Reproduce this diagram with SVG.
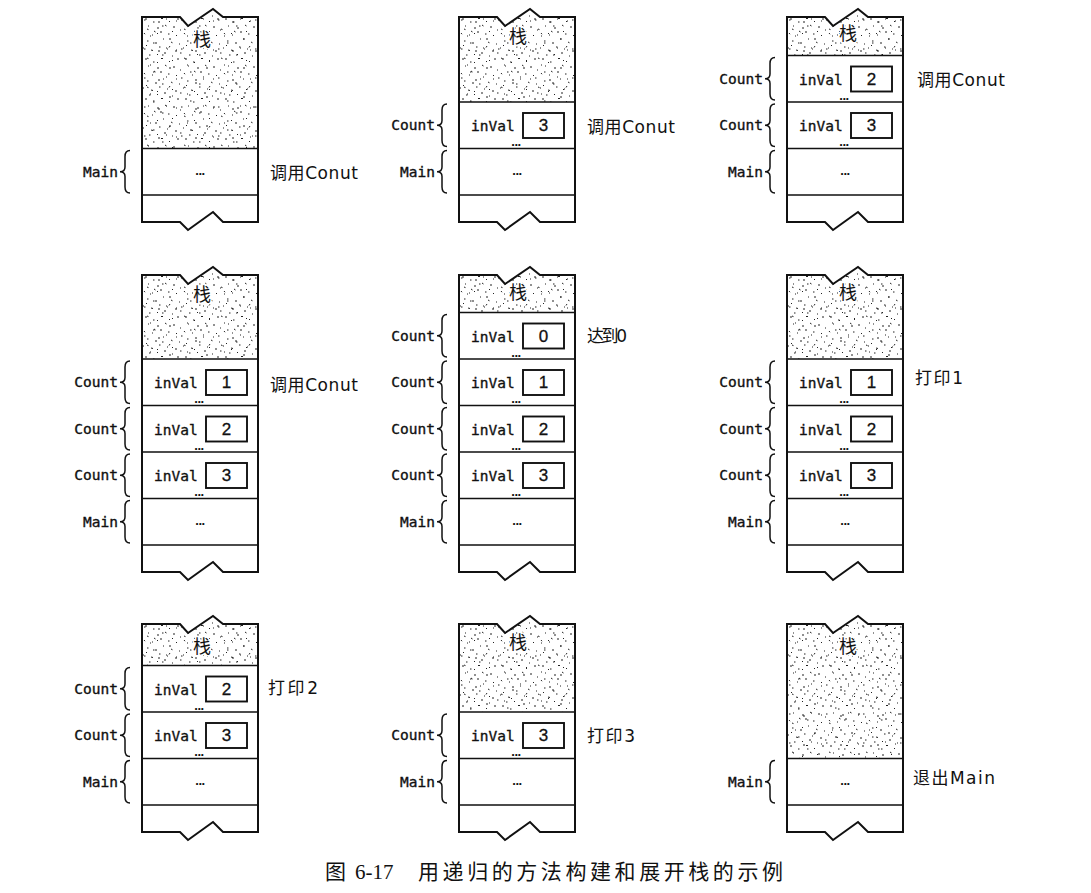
<svg xmlns="http://www.w3.org/2000/svg" xmlns:xlink="http://www.w3.org/1999/xlink" width="1091" height="893" viewBox="0 0 1091 893">
<style>
.box{fill:none;stroke:#111;stroke-width:2;stroke-linejoin:miter}
.div{fill:none;stroke:#111;stroke-width:1.6}
.vb{fill:#fff;stroke:#111;stroke-width:1.9}
.mono{font-family:"DejaVu Sans Mono","Liberation Mono",monospace;font-size:14.5px;fill:#111;stroke:#111;stroke-width:0.35}
.lbl{font-family:"DejaVu Sans Mono","Liberation Mono",monospace;font-size:14.5px;fill:#111;stroke:#111;stroke-width:0.35;text-anchor:end}
.num{font-family:"Liberation Sans",Arial,sans-serif;font-size:17px;fill:#111;stroke:#111;stroke-width:0.3;text-anchor:middle}
.dots{font-family:"Liberation Sans",Arial,sans-serif;font-size:13px;font-weight:bold;fill:#111;text-anchor:middle;letter-spacing:-0.5px}
.brace{fill:none;stroke:#111;stroke-width:1.5}
.note{font-family:"DejaVu Sans","Noto Sans CJK SC",sans-serif;font-size:17px;fill:#111}
.zhan{font-family:"Noto Sans CJK SC",sans-serif;font-size:18px;fill:#111;text-anchor:middle;stroke:#fff;stroke-width:3;paint-order:stroke}
.cap{font-family:"Liberation Serif","Noto Sans CJK SC",serif;font-size:21px;fill:#111}
.sa{fill:url(#stA)}
.sb{fill:url(#stB)}
</style>
<defs>
<pattern id="stA" width="40" height="40" patternUnits="userSpaceOnUse">
<path d="M3 2h2M11 5h1.5M19 1.5h2M27 4l1 1M35 2h2M6 9h1M15 11h2M23 8l1.5 1M31 10h2M38 13h1M2 16l1 1.2M10 18h1M18 15h2M26 17h1.5M34 19l1-1M5 24h1.5M13 26h2M21 22h1M29 25l1.5 .8M37 27h1M1 31h1M9 33l2 .5M17 30h1.5M25 32h1M33 34h2M7 38h1.5M15 37l1 1M22 36h2M30 39h1M38 36h1.5M12 14l1.5 1M28 29l-1 1.5M4 28l1 1" stroke="#222" stroke-width="1" fill="none"/>
</pattern>
<pattern id="stB" width="37" height="29" patternUnits="userSpaceOnUse">
<path d="M2 3h1.5M16 5h2M24 2h1M5 12l1.5 .6M20 9h1.5M31 14l-1 1M8 19h1M15 16l1 1M27 22h2M11 26h1.5M34 4h1" stroke="#222" stroke-width="1" fill="none"/>
</pattern>
<path id="brace" class="brace" d="M-12,2 Q-17,2 -17,8 V18.5 Q-17,23.25 -22,23.25 Q-17,23.25 -17,28 V38.5 Q-17,44.5 -12,44.5"/>
<path id="out1" class="box" d="M0,0 H38 L46,9 L71,-8 L81,0 H116 V205 H81 L71,195 L46,213 L38,205 H0 Z"/>
<path id="out2" class="box" d="M0,0 H38 L46,9 L71,-8 L81,0 H116 V297 H81 L71,287 L46,305 L38,297 H0 Z"/>
<path id="out3" class="box" d="M0,0 H38 L46,9 L71,-8 L81,0 H116 V208 H81 L71,198 L46,216 L38,208 H0 Z"/>
<g id="mainF">
<use xlink:href="#brace"/>
<text class="lbl" x="-24" y="28">Main</text>
<text class="dots" x="58" y="26">...</text>
</g>
<g id="cntF">
<use xlink:href="#brace"/>
<text class="lbl" x="-24" y="28">Count</text>
<text class="mono" x="12" y="29">inVal</text>
<rect class="vb" x="64" y="11" width="41" height="25"/>
<text class="dots" x="57" y="44">...</text>
</g>
</defs>

<!-- Row 1 -->
<g id="stack1" transform="translate(142,17)">
<path class="sa" d="M0,0 H38 L46,9 L71,-8 L81,0 H116 V131.5 H0 Z"/>
<path class="sb" d="M0,0 H38 L46,9 L71,-8 L81,0 H116 V131.5 H0 Z"/>
<text class="zhan" x="60" y="29">栈</text>
<g id="s1-main" transform="translate(0,131.5)"><use xlink:href="#mainF"/></g>
<path class="div" d="M0,131.5 H116 M0,178 H116"/>
<use xlink:href="#out1"/>
<text class="note" x="128" y="161.5" textLength="88" lengthAdjust="spacing">调用Conut</text>
</g>

<g id="stack2" transform="translate(459,17)">
<path class="sa" d="M0,0 H38 L46,9 L71,-8 L81,0 H116 V85 H0 Z"/>
<path class="sb" d="M0,0 H38 L46,9 L71,-8 L81,0 H116 V85 H0 Z"/>
<text class="zhan" x="59" y="26">栈</text>
<g id="s2-c3" transform="translate(0,85)"><use xlink:href="#cntF"/><text class="num" x="84.5" y="29">3</text></g>
<g id="s2-main" transform="translate(0,131.5)"><use xlink:href="#mainF"/></g>
<path class="div" d="M0,85 H116 M0,131.5 H116 M0,178 H116"/>
<use xlink:href="#out1"/>
<text class="note" x="128" y="116" textLength="88" lengthAdjust="spacing">调用Conut</text>
</g>

<g id="stack3" transform="translate(787,17)">
<path class="sa" d="M0,0 H38 L46,9 L71,-8 L81,0 H116 V38.5 H0 Z"/>
<path class="sb" d="M0,0 H38 L46,9 L71,-8 L81,0 H116 V38.5 H0 Z"/>
<text class="zhan" x="61" y="23">栈</text>
<g id="s3-c2" transform="translate(0,38.5)"><use xlink:href="#cntF"/><text class="num" x="84.5" y="29">2</text></g>
<g id="s3-c3" transform="translate(0,85)"><use xlink:href="#cntF"/><text class="num" x="84.5" y="29">3</text></g>
<g id="s3-main" transform="translate(0,131.5)"><use xlink:href="#mainF"/></g>
<path class="div" d="M0,38.5 H116 M0,85 H116 M0,131.5 H116 M0,178 H116"/>
<use xlink:href="#out1"/>
<text class="note" x="130" y="69" textLength="88" lengthAdjust="spacing">调用Conut</text>
</g>

<!-- Row 2 -->
<g id="stack4" transform="translate(142,275)">
<path class="sa" d="M0,0 H38 L46,9 L71,-8 L81,0 H116 V84 H0 Z"/>
<path class="sb" d="M0,0 H38 L46,9 L71,-8 L81,0 H116 V84 H0 Z"/>
<text class="zhan" x="60" y="26">栈</text>
<g id="s4-c1" transform="translate(0,84)"><use xlink:href="#cntF"/><text class="num" x="84.5" y="29">1</text></g>
<g id="s4-c2" transform="translate(0,130.5)"><use xlink:href="#cntF"/><text class="num" x="84.5" y="29">2</text></g>
<g id="s4-c3" transform="translate(0,177)"><use xlink:href="#cntF"/><text class="num" x="84.5" y="29">3</text></g>
<g id="s4-main" transform="translate(0,223.5)"><use xlink:href="#mainF"/></g>
<path class="div" d="M0,84 H116 M0,130.5 H116 M0,177 H116 M0,223.5 H116 M0,270 H116"/>
<use xlink:href="#out2"/>
<text class="note" x="128" y="116" textLength="88" lengthAdjust="spacing">调用Conut</text>
</g>

<g id="stack5" transform="translate(459,275)">
<path class="sa" d="M0,0 H38 L46,9 L71,-8 L81,0 H116 V37.5 H0 Z"/>
<path class="sb" d="M0,0 H38 L46,9 L71,-8 L81,0 H116 V37.5 H0 Z"/>
<text class="zhan" x="59" y="24">栈</text>
<g id="s5-c0" transform="translate(0,37.5)"><use xlink:href="#cntF"/><text class="num" x="84.5" y="29">0</text></g>
<g id="s5-c1" transform="translate(0,84)"><use xlink:href="#cntF"/><text class="num" x="84.5" y="29">1</text></g>
<g id="s5-c2" transform="translate(0,130.5)"><use xlink:href="#cntF"/><text class="num" x="84.5" y="29">2</text></g>
<g id="s5-c3" transform="translate(0,177)"><use xlink:href="#cntF"/><text class="num" x="84.5" y="29">3</text></g>
<g id="s5-main" transform="translate(0,223.5)"><use xlink:href="#mainF"/></g>
<path class="div" d="M0,37.5 H116 M0,84 H116 M0,130.5 H116 M0,177 H116 M0,223.5 H116 M0,270 H116"/>
<use xlink:href="#out2"/>
<text class="note" x="128" y="67" textLength="40" lengthAdjust="spacing">达到0</text>
</g>

<g id="stack6" transform="translate(787,275)">
<path class="sa" d="M0,0 H38 L46,9 L71,-8 L81,0 H116 V84 H0 Z"/>
<path class="sb" d="M0,0 H38 L46,9 L71,-8 L81,0 H116 V84 H0 Z"/>
<text class="zhan" x="61" y="24">栈</text>
<g id="s6-c1" transform="translate(0,84)"><use xlink:href="#cntF"/><text class="num" x="84.5" y="29">1</text></g>
<g id="s6-c2" transform="translate(0,130.5)"><use xlink:href="#cntF"/><text class="num" x="84.5" y="29">2</text></g>
<g id="s6-c3" transform="translate(0,177)"><use xlink:href="#cntF"/><text class="num" x="84.5" y="29">3</text></g>
<g id="s6-main" transform="translate(0,223.5)"><use xlink:href="#mainF"/></g>
<path class="div" d="M0,84 H116 M0,130.5 H116 M0,177 H116 M0,223.5 H116 M0,270 H116"/>
<use xlink:href="#out2"/>
<text class="note" x="128" y="109" textLength="48" lengthAdjust="spacing">打印1</text>
</g>

<!-- Row 3 -->
<g id="stack7" transform="translate(142,624)">
<path class="sa" d="M0,0 H38 L46,9 L71,-8 L81,0 H116 V41.5 H0 Z"/>
<path class="sb" d="M0,0 H38 L46,9 L71,-8 L81,0 H116 V41.5 H0 Z"/>
<text class="zhan" x="60" y="29">栈</text>
<g id="s7-c2" transform="translate(0,41.5)"><use xlink:href="#cntF"/><text class="num" x="84.5" y="29">2</text></g>
<g id="s7-c3" transform="translate(0,88)"><use xlink:href="#cntF"/><text class="num" x="84.5" y="29">3</text></g>
<g id="s7-main" transform="translate(0,134.5)"><use xlink:href="#mainF"/></g>
<path class="div" d="M0,41.5 H116 M0,88 H116 M0,134.5 H116 M0,181 H116"/>
<use xlink:href="#out3"/>
<text class="note" x="126" y="70" textLength="50" lengthAdjust="spacing">打印2</text>
</g>

<g id="stack8" transform="translate(459,624)">
<path class="sa" d="M0,0 H38 L46,9 L71,-8 L81,0 H116 V88 H0 Z"/>
<path class="sb" d="M0,0 H38 L46,9 L71,-8 L81,0 H116 V88 H0 Z"/>
<text class="zhan" x="59" y="25">栈</text>
<g id="s8-c3" transform="translate(0,88)"><use xlink:href="#cntF"/><text class="num" x="84.5" y="29">3</text></g>
<g id="s8-main" transform="translate(0,134.5)"><use xlink:href="#mainF"/></g>
<path class="div" d="M0,88 H116 M0,134.5 H116 M0,181 H116"/>
<use xlink:href="#out3"/>
<text class="note" x="128" y="118" textLength="48" lengthAdjust="spacing">打印3</text>
</g>

<g id="stack9" transform="translate(787,624)">
<path class="sa" d="M0,0 H38 L46,9 L71,-8 L81,0 H116 V134.5 H0 Z"/>
<path class="sb" d="M0,0 H38 L46,9 L71,-8 L81,0 H116 V134.5 H0 Z"/>
<text class="zhan" x="61" y="29">栈</text>
<g id="s9-main" transform="translate(0,134.5)"><use xlink:href="#mainF"/></g>
<path class="div" d="M0,134.5 H116 M0,181 H116"/>
<use xlink:href="#out3"/>
<text class="note" x="126" y="160" textLength="82" lengthAdjust="spacing">退出Main</text>
</g>

<g id="caption">
<text class="cap" x="325" y="879">图</text>
<text class="cap" x="355" y="879">6-17</text>
<text class="cap" x="418" y="879" textLength="365" lengthAdjust="spacing">用递归的方法构建和展开栈的示例</text>
</g>
</svg>
